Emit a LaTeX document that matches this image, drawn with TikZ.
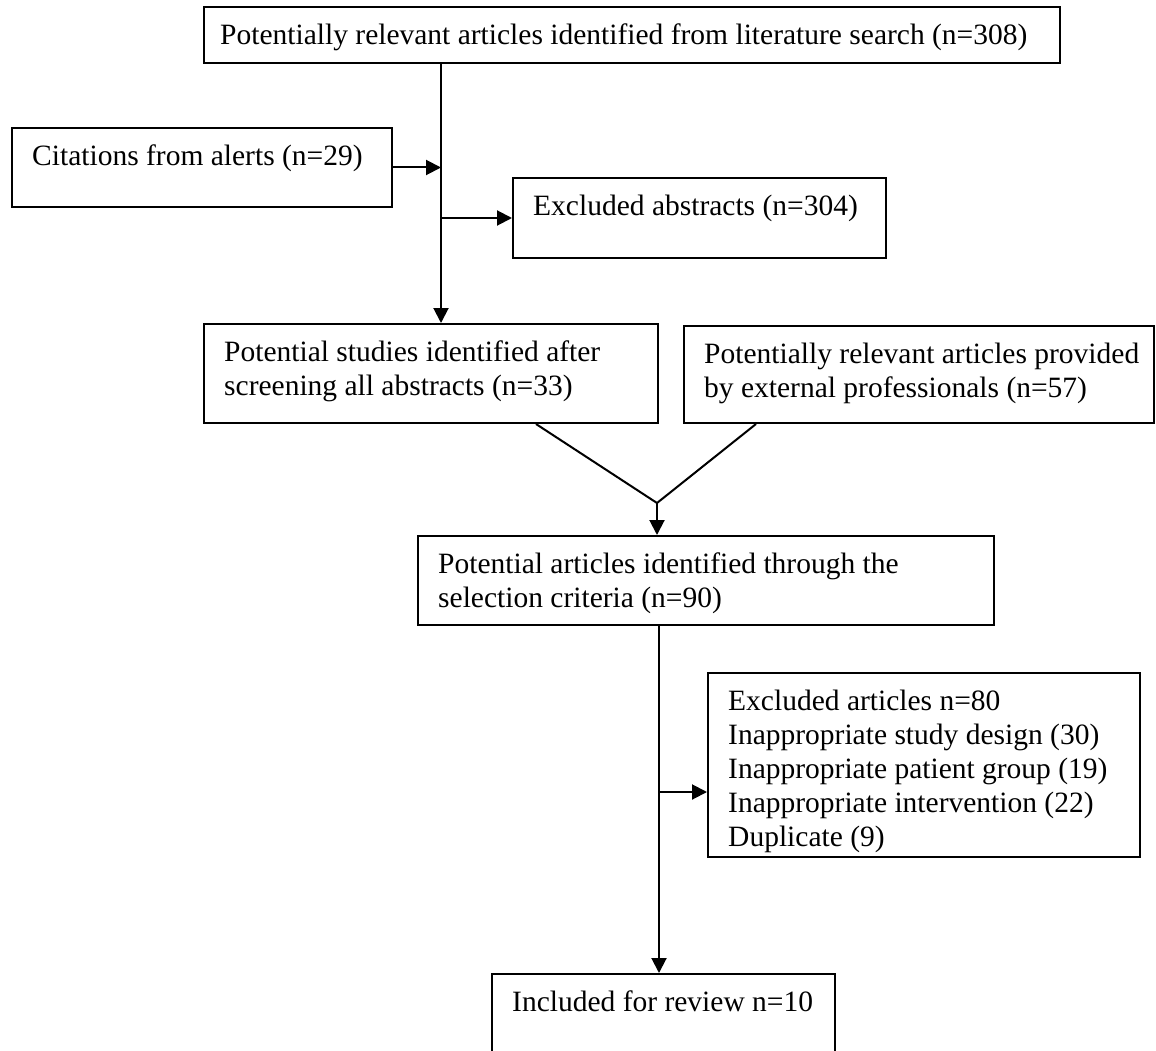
\documentclass[tikz,border=0pt]{standalone}
\usepackage{fontspec}
\setmainfont{Liberation Serif}
\usetikzlibrary{arrows.meta}
\begin{document}
\begin{tikzpicture}[x=1pt,y=-1pt,
  boxline/.style={draw=black, line width=2pt, rectangle, anchor=north west, inner sep=0pt},
  txt/.style={anchor=north west, inner sep=0pt, align=left, font=\fontsize{29.5}{34}\selectfont},
  conn/.style={line width=2pt},
  arr/.style={conn, -{Triangle[length=15pt,width=15pt]}}]
\useasboundingbox (0,0) rectangle (1156,1051);
\fill[white] (0,0) rectangle (1156,1051);

% boxes
\node[boxline, minimum width=856pt, minimum height=56pt] (top) at (203,6) {};
\node[boxline, minimum width=380pt, minimum height=79pt] (cit) at (11,127) {};
\node[boxline, minimum width=373pt, minimum height=80pt] (exabs) at (512,177) {};
\node[boxline, minimum width=454pt, minimum height=99pt] (studies) at (203,323) {};
\node[boxline, minimum width=470pt, minimum height=97pt] (ext) at (683,325) {};
\node[boxline, minimum width=576pt, minimum height=89pt] (pa) at (417,535) {};
\node[boxline, minimum width=432pt, minimum height=184pt] (excl) at (707,672) {};
\node[boxline, minimum width=343pt, minimum height=90pt] (incl) at (491,973) {};

% texts
\node[txt] (ttop) at (220,24) {Potentially relevant articles identified from literature search (n=308)};
\node[txt] (tcit) at (32,145) {Citations from alerts (n=29)};
\node[txt] (texabs) at (533,195) {Excluded abstracts (n=304)};
\node[txt] (tstudies) at (224,341) {Potential studies identified after\\screening all abstracts (n=33)};
\node[txt] (text) at (704,343) {Potentially relevant articles provided\\by external professionals (n=57)};
\node[txt] (tpa) at (438,553) {Potential articles identified through the\\selection criteria (n=90)};
\node[txt] (texcl) at (728,690) {Excluded articles n=80\\Inappropriate study design (30)\\Inappropriate patient group (19)\\Inappropriate intervention (22)\\Duplicate (9)};
\node[txt] (tincl) at (512,991) {Included for review n=10};

% connectors
\coordinate (sp) at (441,0);
\draw[arr] (sp |- top.south) -- (sp |- studies.north);
\draw[arr] (cit.east) -- (sp |- cit.east);
\draw[arr] (sp |- exabs.west) -- (exabs.west);
\coordinate (jn) at (657,503);
\draw[conn] ([xshift=105pt]studies.south) -- (jn) -- ([xshift=-163pt]ext.south);
\draw[arr] (jn) -- (jn |- pa.north);
\coordinate (sp2) at (659,0);
\draw[arr] (sp2 |- pa.south) -- (sp2 |- incl.north);
\coordinate (br) at (659,792);
\draw[arr] (br) -- (br -| excl.west);
\end{tikzpicture}
\end{document}
